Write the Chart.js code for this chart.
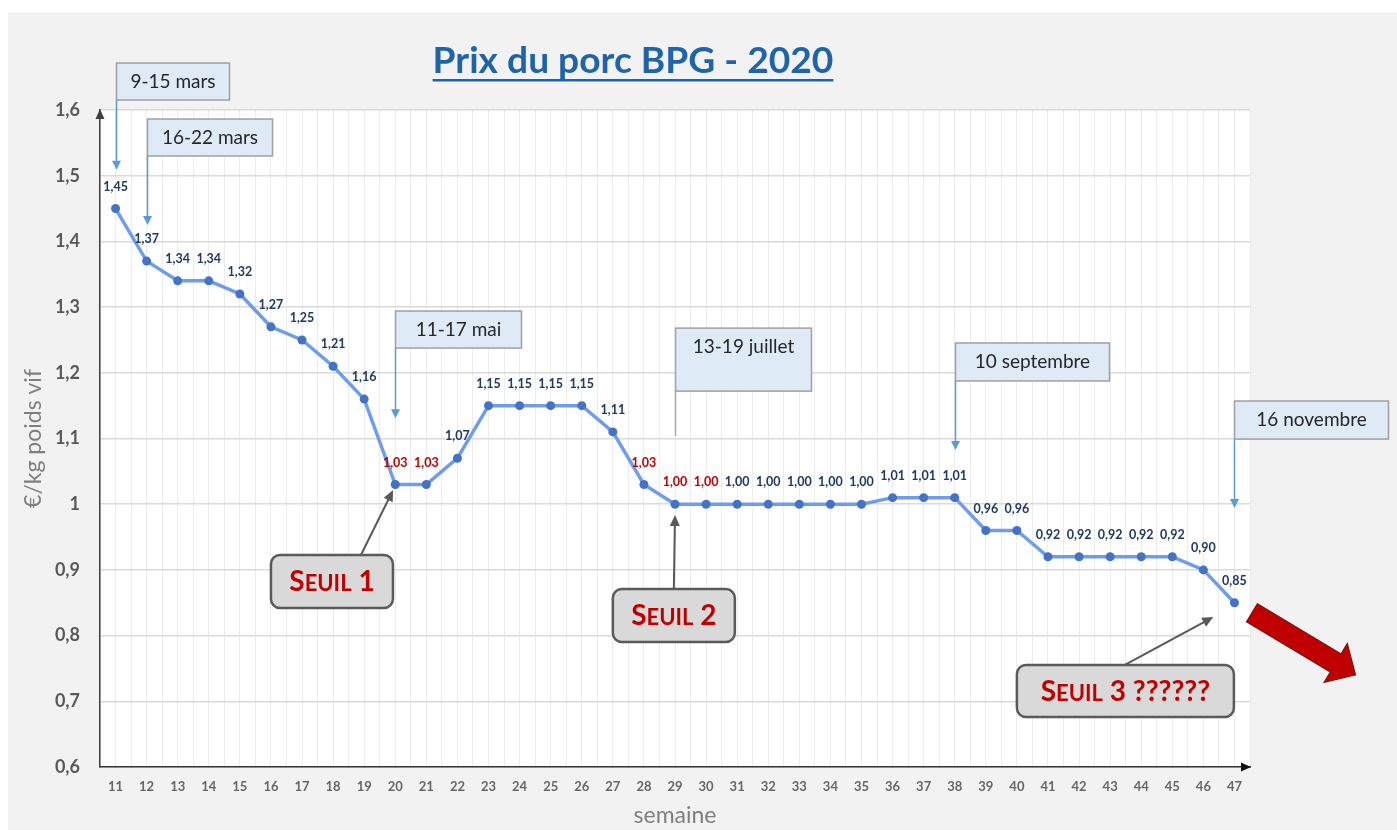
<!DOCTYPE html>
<html lang="fr">
<head>
<meta charset="utf-8">
<title>Prix du porc BPG - 2020</title>
<script src="https://cdn.jsdelivr.net/npm/chart.js@4.4.1/dist/chart.umd.min.js"></script>
<style>
  html, body { margin: 0; padding: 0; background: #fff; }
  canvas { display: block; }
</style>
</head>
<body>
<canvas id="chart" width="1397" height="830"></canvas>
<script>
// Weekly pig price, €/kg live weight
const weeks = [11, 12, 13, 14, 15, 16, 17, 18, 19, 20, 21, 22, 23, 24, 25, 26, 27, 28, 29,
  30, 31, 32, 33, 34, 35, 36, 37, 38, 39, 40, 41, 42, 43, 44, 45, 46, 47];
const prices = [1.45, 1.37, 1.34, 1.34, 1.32, 1.27, 1.25, 1.21, 1.16, 1.03, 1.03, 1.07, 1.15,
  1.15, 1.15, 1.15, 1.11, 1.03, 1.00, 1.00, 1.00, 1.00, 1.00, 1.00, 1.00, 1.01, 1.01, 1.01,
  0.96, 0.96, 0.92, 0.92, 0.92, 0.92, 0.92, 0.90, 0.85];
// weeks whose value label is shown in red
const redWeeks = [20, 21, 28, 29, 30];

// date callouts
const noteTexts = ['9-15 mars', '16-22 mars', '11-17 mai', '13-19 juillet', '10 septembre', '16 novembre'];
const noteWeeks = [11, 12, 20, 29, 38, 47];

// threshold callouts
const seuilTexts = ['Seuil 1', 'Seuil 2', 'Seuil 3 ??????'];

const fontFamily = 'Lato, "Open Sans", sans-serif';
Chart.defaults.font.family = fontFamily;

// where the callouts sit (week / value units, sizes in px)
const noteLayout = [
  { top: 1.6715, tip: 1.509, w: 113, h: 37, arrow: true },
  { top: 1.5863, tip: 1.425, w: 125, h: 37, arrow: true },
  { top: 1.294, tip: 1.131, w: 126, h: 37, arrow: true },
  { top: 1.268, tip: 1.104, w: 136, h: 63, arrow: false },
  { top: 1.2454, tip: 1.0825, w: 154, h: 38, arrow: true },
  { top: 1.157, tip: 0.9942, w: 154, h: 38, arrow: true },
];
const seuilLayout = [
  { week: 16, top: 0.9227, w: 122, h: 53, tail: 90, tipWeek: 19.93, tipValue: 1.0215 },
  { week: 27, top: 0.871, w: 122, h: 53, tail: 61, tipWeek: 29, tipValue: 0.9836 },
  { week: 40, top: 0.7553, w: 217, h: 52, tail: 108, tipWeek: 46.32, tipValue: 0.8283 },
];

function fmt(v, digits) {
  return v.toFixed(digits).replace('.', ',');
}

function arrowHead(ctx, fx, fy, tx, ty, len, halfW) {
  const a = Math.atan2(ty - fy, tx - fx);
  ctx.beginPath();
  ctx.moveTo(tx, ty);
  ctx.lineTo(tx - len * Math.cos(a) + halfW * Math.sin(a), ty - len * Math.sin(a) - halfW * Math.cos(a));
  ctx.lineTo(tx - len * Math.cos(a) - halfW * Math.sin(a), ty - len * Math.sin(a) + halfW * Math.cos(a));
  ctx.closePath();
  ctx.fill();
}

function roundRect(ctx, x, y, w, h, r) {
  ctx.beginPath();
  ctx.moveTo(x + r, y);
  ctx.arcTo(x + w, y, x + w, y + h, r);
  ctx.arcTo(x + w, y + h, x, y + h, r);
  ctx.arcTo(x, y + h, x, y, r);
  ctx.arcTo(x, y, x + w, y, r);
  ctx.closePath();
}

// draws text in small caps, centred on cx
function smallCaps(ctx, text, cx, baseline, big, small) {
  const parts = [...text].map(ch => {
    const lower = ch !== ch.toUpperCase();
    return { ch: ch.toUpperCase(), size: lower ? small : big };
  });
  let total = 0;
  parts.forEach(p => {
    ctx.font = `bold ${p.size}px ${fontFamily}`;
    p.w = ctx.measureText(p.ch).width;
    total += p.w;
  });
  let x = cx - total / 2;
  ctx.textAlign = 'left';
  ctx.textBaseline = 'alphabetic';
  parts.forEach(p => {
    ctx.font = `bold ${p.size}px ${fontFamily}`;
    ctx.fillText(p.ch, x, baseline);
    x += p.w;
  });
}

const background = {
  id: 'background',
  beforeDraw(chart) {
    const { ctx, width, height, chartArea } = chart;
    ctx.save();
    ctx.fillStyle = '#fff';
    ctx.fillRect(0, 0, width, height);
    ctx.fillStyle = '#f2f2f2';
    ctx.fillRect(8, 12, width - 8, height - 12);
    ctx.fillStyle = '#fff';
    ctx.fillRect(chartArea.left, chartArea.top, chartArea.right - chartArea.left, chartArea.bottom - chartArea.top);
    ctx.restore();
  }
};

const valueLabels = {
  id: 'valueLabels',
  afterDatasetsDraw(chart) {
    const { ctx } = chart;
    const meta = chart.getDatasetMeta(0);
    ctx.save();
    ctx.font = `bold 12.5px ${fontFamily}`;
    ctx.textAlign = 'center';
    ctx.textBaseline = 'middle';
    meta.data.forEach((pt, i) => {
      ctx.fillStyle = redWeeks.includes(weeks[i]) ? '#c00000' : '#1f3864';
      ctx.fillText(fmt(prices[i], 2), pt.x, pt.y - 22);
    });
    ctx.restore();
  }
};

const decorations = {
  id: 'decorations',
  afterDraw(chart) {
    const { ctx, chartArea } = chart;
    const xs = chart.scales.x;
    const ys = chart.scales.y;
    ctx.save();

    // title
    const title = 'Prix du porc BPG - 2020';
    ctx.font = `bold 34px ${fontFamily}`;
    const size = 34 * 401 / ctx.measureText(title).width;
    ctx.font = `bold ${size}px ${fontFamily}`;
    const tw = ctx.measureText(title).width;
    ctx.fillStyle = '#1f63a8';
    ctx.textAlign = 'center';
    ctx.textBaseline = 'alphabetic';
    ctx.fillText(title, 633, 73);
    ctx.fillRect(633 - tw / 2, 79, tw, 2.5);

    // axis arrow heads
    ctx.fillStyle = '#404040';
    arrowHead(ctx, chartArea.left, chartArea.top + 20, chartArea.left, chartArea.top - 1, 10, 4.5);
    ctx.fillStyle = '#111';
    arrowHead(ctx, chartArea.right - 20, chartArea.bottom, chartArea.right + 1, chartArea.bottom, 10, 4.5);

    // date callouts
    noteTexts.forEach((text, i) => {
      const L = noteLayout[i];
      const x = Math.round(xs.getPixelForValue(noteWeeks[i])) + 0.5;
      const top = ys.getPixelForValue(L.top);
      const tip = ys.getPixelForValue(L.tip);
      ctx.strokeStyle = L.arrow ? '#5b9bd5' : '#a6a6a6';
      ctx.fillStyle = ctx.strokeStyle;
      ctx.lineWidth = 1.5;
      ctx.beginPath();
      ctx.moveTo(x, top + L.h);
      ctx.lineTo(x, L.arrow ? tip - 8 : tip);
      ctx.stroke();
      if (L.arrow) arrowHead(ctx, x, top, x, tip, 9, 4.5);
      ctx.fillStyle = '#deeaf6';
      ctx.fillRect(x, top, L.w, L.h);
      ctx.strokeStyle = '#a0a0a0';
      ctx.lineWidth = 1.5;
      ctx.strokeRect(x, top, L.w, L.h);
      ctx.fillStyle = '#262626';
      ctx.font = `19px ${fontFamily}`;
      ctx.textAlign = 'center';
      ctx.textBaseline = 'middle';
      ctx.fillText(text, x + L.w / 2, top + 19);
    });

    // threshold callouts
    seuilTexts.forEach((text, i) => {
      const L = seuilLayout[i];
      const x = xs.getPixelForValue(L.week);
      const top = ys.getPixelForValue(L.top);
      const tx = xs.getPixelForValue(L.tipWeek);
      const ty = ys.getPixelForValue(L.tipValue);
      ctx.strokeStyle = '#595959';
      ctx.fillStyle = '#595959';
      ctx.lineWidth = 2;
      ctx.beginPath();
      ctx.moveTo(x + L.tail, top);
      const a = Math.atan2(ty - top, tx - x - L.tail);
      ctx.lineTo(tx - 8 * Math.cos(a), ty - 8 * Math.sin(a));
      ctx.stroke();
      arrowHead(ctx, x + L.tail, top, tx, ty, 11, 5);

      roundRect(ctx, x, top, L.w, L.h, 9);
      ctx.fillStyle = '#d9d9d9';
      ctx.fill();
      ctx.lineWidth = 2.5;
      ctx.strokeStyle = '#5a5a5a';
      ctx.stroke();
      ctx.fillStyle = '#c00000';
      smallCaps(ctx, text, x + L.w / 2, top + L.h / 2 + 10, 28, 22);
    });

    // big red arrow after the last point
    const last = chart.getDatasetMeta(0).data[weeks.length - 1];
    const sx = last.x + 17.5, sy = last.y + 10;
    const ex = last.x + 121, ey = last.y + 72;
    const ang = Math.atan2(ey - sy, ex - sx);
    const len = Math.hypot(ex - sx, ey - sy);
    ctx.translate(sx, sy);
    ctx.rotate(ang);
    ctx.beginPath();
    ctx.moveTo(0, -10.5);
    ctx.lineTo(len - 23, -10.5);
    ctx.lineTo(len - 23, -22.5);
    ctx.lineTo(len, 0);
    ctx.lineTo(len - 23, 22.5);
    ctx.lineTo(len - 23, 10.5);
    ctx.lineTo(0, 10.5);
    ctx.closePath();
    ctx.fillStyle = '#c00000';
    ctx.fill();
    ctx.strokeStyle = '#7a1010';
    ctx.lineWidth = 1.2;
    ctx.stroke();

    ctx.restore();
  }
};

new Chart(document.getElementById('chart'), {
  type: 'line',
  data: {
    datasets: [{
      data: weeks.map((w, i) => ({ x: w, y: prices[i] })),
      borderColor: '#6f9de8',
      borderWidth: 3.5,
      pointRadius: 4.5,
      pointHoverRadius: 4.5,
      pointBackgroundColor: '#4472c4',
      pointBorderColor: '#4472c4',
      pointBorderWidth: 0,
      tension: 0,
    }]
  },
  options: {
    responsive: false,
    animation: false,
    devicePixelRatio: 1,
    layout: { padding: { top: 110, right: 147, bottom: 0, left: 0 } },
    plugins: {
      legend: { display: false },
      tooltip: { enabled: false },
    },
    scales: {
      x: {
        type: 'linear',
        min: 10.5,
        max: 47.5,
        afterFit(scale) { scale.height = 63; },
        ticks: {
          stepSize: 0.5,
          autoSkip: false,
          maxRotation: 0,
          padding: 12,
          color: '#666',
          font: { size: 13, weight: 'bold' },
          callback: v => Number.isInteger(v) ? String(v) : '',
        },
        grid: { color: '#ececec', drawTicks: false },
        border: { color: '#333', width: 1.5 },
        title: {
          display: true,
          text: 'semaine',
          color: '#7f7f7f',
          font: { size: 23 },
          padding: { top: 0, bottom: 1 },
        },
      },
      y: {
        min: 0.6,
        max: 1.6,
        afterFit(scale) { scale.width = 100; },
        ticks: {
          stepSize: 0.1,
          padding: 20,
          color: '#595959',
          font: { size: 18, weight: 'bold' },
          callback: v => String(+v.toFixed(1)).replace('.', ','),
        },
        grid: { color: '#dadada', lineWidth: 1.5, drawTicks: false },
        border: { color: '#404040', width: 1.5 },
        title: {
          display: true,
          text: '€/kg poids vif',
          color: '#7f7f7f',
          font: { size: 23 },
          padding: { top: 20, bottom: 0 },
        },
      },
    },
  },
  plugins: [background, valueLabels, decorations],
});
</script>
</body>
</html>
